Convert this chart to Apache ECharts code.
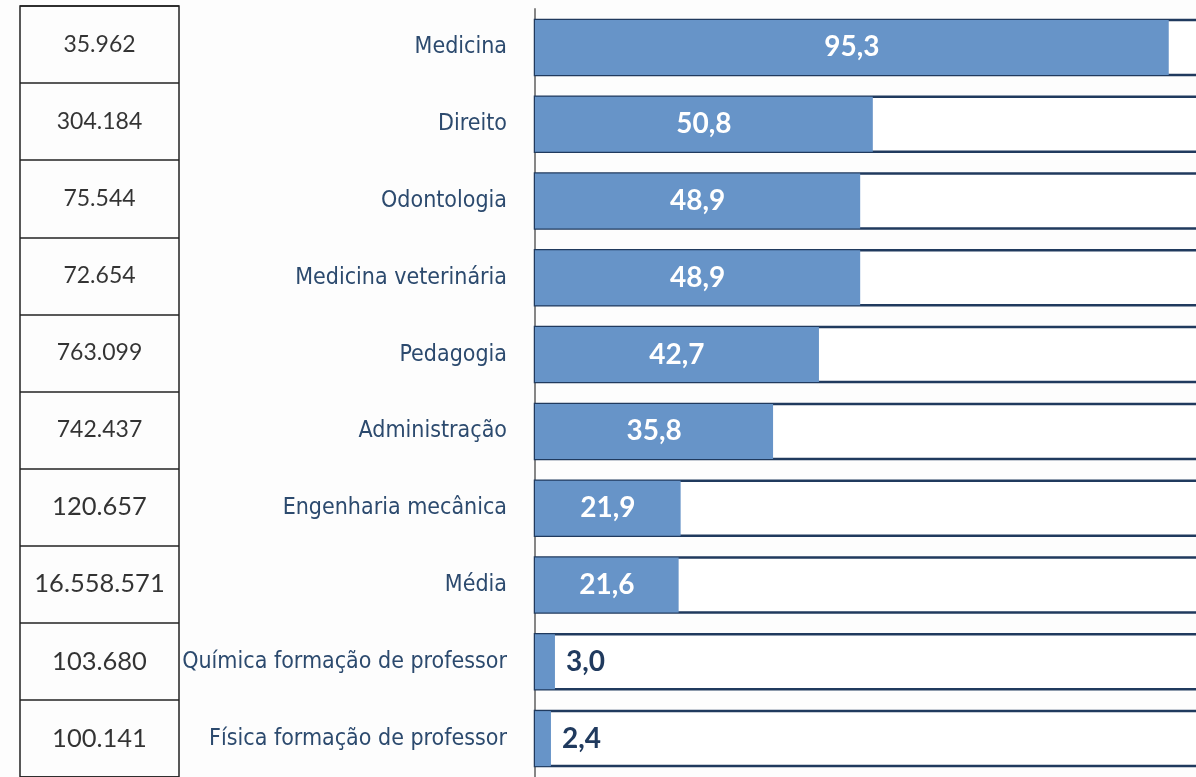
<!DOCTYPE html>
<html>
<head>
<meta charset="utf-8">
<script src="https://cdn.jsdelivr.net/npm/echarts@6/dist/echarts.min.js"></script>
<style>
  html, body { margin: 0; padding: 0; background: #fdfdfd; overflow: hidden; }
  /* um pouco mais largo que a janela: a trilha das barras sai pela direita */
  #main { width: 1212px; height: 777px; }
</style>
</head>
<body>
<div id="main"></div>
<script>
  // cursos
  const categories = [
    'Medicina', 'Direito', 'Odontologia', 'Medicina veterinária', 'Pedagogia',
    'Administração', 'Engenharia mecânica', 'Média',
    'Química formação de professor', 'Física formação de professor'
  ]
  const values = [95.3, 50.8, 48.9, 48.9, 42.7, 35.8, 21.9, 21.6, 3.0, 2.4]
  const tableValues = [
    '35.962', '304.184', '75.544', '72.654', '763.099',
    '742.437', '120.657', '16.558.571', '103.680', '100.141'
  ]

  const navy = '#203a5e'
  const blue = '#6794c8'

  const barData = values.map(function (v) {
    const small = v < 10
    return {
      value: v,
      label: small
        ? { position: 'right', distance: 11, color: navy }
        : { position: 'inside', color: '#ffffff' }
    }
  })

  const cellData = tableValues.map(function (t, i) {
    return {
      value: [0.5, i],
      label: { formatter: t, fontSize: i < 6 ? 23 : 25.5 }
    }
  })

  const option = {
    backgroundColor: '#fdfdfd',
    animation: false,
    grid: [
      { left: 535, top: 9, width: 665, height: 774 },
      { left: 20, top: 6, width: 159, height: 773, show: true, borderColor: '#222', borderWidth: 1.5, backgroundColor: 'transparent' }
    ],
    xAxis: [
      { gridIndex: 0, type: 'value', min: 0, max: 100, show: false },
      { gridIndex: 1, type: 'value', min: 0, max: 1, show: false }
    ],
    yAxis: [
      {
        gridIndex: 0,
        type: 'category',
        inverse: true,
        data: categories,
        axisLine: { lineStyle: { color: '#868686', width: 2 } },
        axisTick: { length: 8, lineStyle: { color: '#868686', width: 2 } },
        axisLabel: {
          margin: 28,
          color: '#2c4a6e',
          fontFamily: "'Liberation Sans Narrow', 'DejaVu Sans Condensed', Roboto, sans-serif",
          fontSize: 23
        }
      },
      {
        gridIndex: 1,
        type: 'category',
        inverse: true,
        data: tableValues,
        axisLine: { show: false },
        axisTick: { show: false },
        axisLabel: { show: false },
        splitLine: { show: true, lineStyle: { color: '#222', width: 1.5 } }
      }
    ],
    series: [
      {
        type: 'bar',
        xAxisIndex: 0,
        yAxisIndex: 0,
        barWidth: 55,
        data: barData,
        itemStyle: { color: blue },
        showBackground: true,
        backgroundStyle: { color: '#ffffff', borderColor: navy, borderWidth: 2.5 },
        label: {
          show: true,
          fontFamily: 'Lato',
          fontWeight: 'bold',
          fontSize: 28,
          formatter: function (p) {
            return p.value.toFixed(1).replace('.', ',')
          }
        }
      },
      {
        type: 'scatter',
        xAxisIndex: 1,
        yAxisIndex: 1,
        symbolSize: 0,
        data: cellData,
        label: {
          show: true,
          position: 'inside',
          color: '#000',
          fontFamily: 'Lato'
        }
      }
    ]
  }

  const chart = echarts.init(document.getElementById('main'))
  chart.setOption(option)
  window.addEventListener('resize', function () { chart.resize() })
</script>
</body>
</html>
